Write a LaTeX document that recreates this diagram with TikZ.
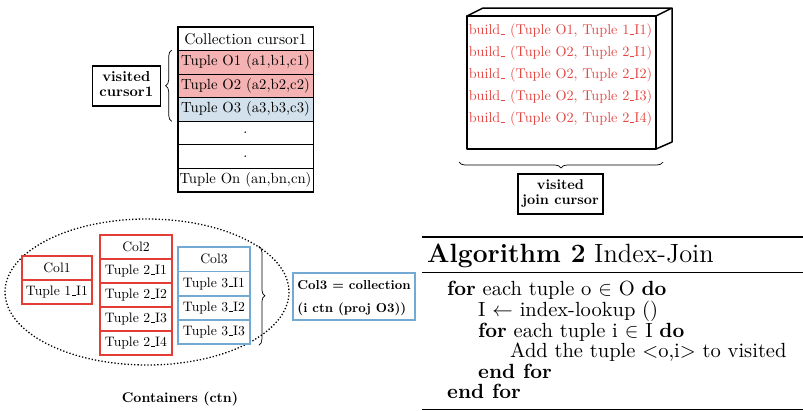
\documentclass[tikz,border=0pt]{standalone}
\usetikzlibrary{decorations.pathreplacing}
\definecolor{pinkfill}{RGB}{245,178,178}
\definecolor{bluefill}{RGB}{210,225,235}
\definecolor{redline}{RGB}{226,62,54}
\definecolor{blueline}{RGB}{115,170,212}
\definecolor{redtext}{RGB}{228,70,66}
% short rule used as underscore in tuple names
\newcommand{\ubar}{\kern.06em\vbox{\hrule width.3em}}
% text set at 10pt and enlarged, two-line variant
\newcommand{\enl}[2]{\scalebox{#1}{#2}}
\newcommand{\twolines}[4]{\scalebox{#1}{\renewcommand{\arraystretch}{#2}\begin{tabular}{@{}c@{}}#3\\#4\end{tabular}}}
\begin{document}
\begin{tikzpicture}[x=1pt,y=-1pt,
  row/.style={draw, line width=0.6pt, minimum width=135pt, minimum height=23.5pt,
    inner sep=0pt, font=\normalsize},
  tag/.style={draw, line width=1.4pt, inner sep=0pt, align=center,
    font=\normalsize\bfseries},
  redcell/.style={draw=redline, line width=1.8pt, minimum width=#1, minimum height=24pt,
    inner sep=0pt, font=\normalsize},
  bluecell/.style={draw=blueline, line width=1.8pt, minimum width=#1, minimum height=24.3pt,
    inner sep=0pt, font=\normalsize},
  joinline/.style={text=redtext, font=\normalsize, inner sep=0pt},
  brc/.style={decorate, decoration={brace, amplitude=6pt}, line width=0.7pt},
  algline/.style={anchor=base west, inner sep=0pt, font=\normalsize},
]
\useasboundingbox (0,0) rectangle (803,410);

% cursor over the outer collection
\node[row] (h)  at (245.5,38.75)  {\enl{1.55}{Collection cursor1}};
\node[row, fill=pinkfill] (o1) at (245.5,62.25)  {\enl{1.47}{Tuple O1 (a1,b1,c1)}};
\node[row, fill=pinkfill] (o2) at (245.5,85.75)  {\enl{1.47}{Tuple O2 (a2,b2,c2)}};
\node[row, fill=bluefill] (o3) at (245.5,109.25) {\enl{1.47}{Tuple O3 (a3,b3,c3)}};
\node[row] (d1) at (245.5,132.75) {\enl{1.47}{.}};
\node[row] (d2) at (245.5,156.25) {\enl{1.47}{.}};
\node[row] (on) at (245.5,179.75) {\enl{1.47}{Tuple On (an,bn,cn)}};
\draw[line width=1.4pt] (h.north west) rectangle (on.south east);

\draw[brc] ([xshift=-6pt]o3.south west) -- ([xshift=-6pt]o1.north west);
\node[tag, minimum width=68pt, minimum height=40pt, anchor=east] (vc) at (161,86)
  {\twolines{1.45}{0.85}{visited}{cursor1}};

% visited join cursor drawn as a box
\coordinate (fa) at (467,16);
\coordinate (fb) at (656,16);
\coordinate (fc) at (656,149);
\coordinate (ba) at (483,8);
\coordinate (bb) at (672,8);
\coordinate (bc) at (672,142);
\draw[line width=1.5pt, line join=round] (fa) rectangle (fc);
\draw[line width=1.5pt, line join=round] (fa) -- (ba) -- (bb) -- (fb);
\draw[line width=1.5pt, line join=round] (bb) -- (bc) -- (fc);
\node[joinline] (j1) at (560.5,31)  {\enl{1.42}{build\ubar{} (Tuple O1, Tuple 1\ubar I1)}};
\node[joinline] (j2) at (560.5,53)  {\enl{1.42}{build\ubar{} (Tuple O2, Tuple 2\ubar I1)}};
\node[joinline] (j3) at (560.5,75)  {\enl{1.42}{build\ubar{} (Tuple O2, Tuple 2\ubar I2)}};
\node[joinline] (j4) at (560.5,97)  {\enl{1.42}{build\ubar{} (Tuple O2, Tuple 2\ubar I3)}};
\node[joinline] (j5) at (560.5,119) {\enl{1.42}{build\ubar{} (Tuple O2, Tuple 2\ubar I4)}};

\coordinate (jbr) at (663,162);
\coordinate (jbl) at (459,162);
\draw[brc] (jbr) -- (jbl);
\node[tag, minimum width=85pt, minimum height=40pt] (vj) at (560.5,194)
  {\twolines{1.42}{0.88}{visited}{join cursor}};

% containers
\draw[dotted, line width=1.3pt] (147,292) ellipse [x radius=142, y radius=73];

\node[redcell=70pt] (c1h) at (57,268) {\enl{1.37}{Col1}};
\node[redcell=70pt] (c1a) at (57,292) {\enl{1.37}{Tuple 1\ubar I1}};

\node[redcell=72pt] (c2h) at (136,247) {\enl{1.37}{Col2}};
\node[redcell=72pt] (c2a) at (136,271) {\enl{1.37}{Tuple 2\ubar I1}};
\node[redcell=72pt] (c2b) at (136,295) {\enl{1.37}{Tuple 2\ubar I2}};
\node[redcell=72pt] (c2c) at (136,319) {\enl{1.37}{Tuple 2\ubar I3}};
\node[redcell=72pt] (c2d) at (136,343) {\enl{1.37}{Tuple 2\ubar I4}};

\node[bluecell=72pt] (c3h) at (214,259.3) {\enl{1.37}{Col3}};
\node[bluecell=72pt] (c3a) at (214,283.6) {\enl{1.37}{Tuple 3\ubar I1}};
\node[bluecell=72pt] (c3b) at (214,307.9) {\enl{1.37}{Tuple 3\ubar I2}};
\node[bluecell=72pt] (c3c) at (214,332.2) {\enl{1.37}{Tuple 3\ubar I3}};

\draw[brc] ([xshift=8pt]c3h.north east) -- ([xshift=8pt]c3c.south east);

\node[draw=blueline, line width=1.8pt, minimum width=122pt, minimum height=47pt,
  inner sep=0pt, font=\normalsize\bfseries] (col3def) at (354,296.5)
  {\scalebox{1.3}{\renewcommand{\arraystretch}{1.45}\begin{tabular}{@{}l@{}}Col3 = collection\\(i ctn (proj O3))\end{tabular}}};

\node[font=\normalsize\bfseries, inner sep=0pt] (ctn) at (180,399) {\enl{1.4}{Containers (ctn)}};

% algorithm listing
\coordinate (rl) at (422,237);
\coordinate (rr) at (803,237);
\draw[line width=1.2pt] (rl) -- (rr);
\node[anchor=base west, inner sep=0pt, font=\large] (alg) at (427,262)
  {\enl{2.2}{\textbf{Algorithm 2} Index-Join}};
\coordinate (ml) at (422,272);
\coordinate (mr) at (803,272);
\draw[line width=0.8pt] (ml) -- (mr);
\node[algline] (a1) at (447,295) {\enl{2.05}{\textbf{for} each tuple o $\in$ O \textbf{do}}};
\node[algline] (a2) at (478,316) {\enl{2.05}{I $\leftarrow$ index-lookup ()}};
\node[algline] (a3) at (478,337) {\enl{2.05}{\textbf{for} each tuple i $\in$ I \textbf{do}}};
\node[algline] (a4) at (510,357) {\enl{2.05}{Add the tuple ${<}$o,i${>}$ to visited}};
\node[algline] (a5) at (478,378) {\enl{2.05}{\textbf{end for}}};
\node[algline] (a6) at (447,398) {\enl{2.05}{\textbf{end for}}};
\coordinate (bl) at (422,409.5);
\coordinate (br) at (803,409.5);
\draw[line width=1.2pt] (bl) -- (br);
\end{tikzpicture}
\end{document}
